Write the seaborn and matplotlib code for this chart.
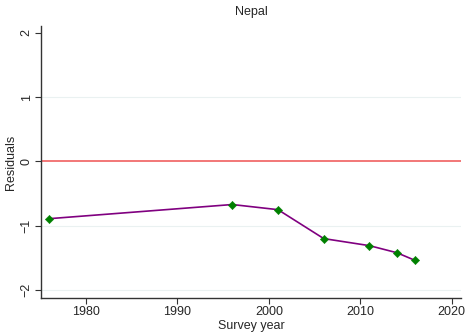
import numpy as np
import pandas as pd
import seaborn as sns
import matplotlib.pyplot as plt

years = [1976, 1996, 2001, 2006, 2011, 2014, 2016]
residuals = [-0.89, -0.67, -0.75, -1.20, -1.31, -1.42, -1.54]
grid_levels = [-2, -1, 1]

df = pd.DataFrame({'year': years, 'resid': residuals})

sns.set_style('white')
plt.rcParams['font.family'] = ['Liberation Sans', 'DejaVu Sans']

fig = plt.figure(figsize=(4.67, 3.36), dpi=100)
ax = fig.add_axes([0.088, 0.113, 0.899, 0.81])

for v in grid_levels:
    ax.axhline(v, color='#eaf1f1', linewidth=0.8, zorder=0)
ax.axhline(0, color='#f06060', linewidth=1.2, zorder=1)

sns.lineplot(data=df, x='year', y='resid', color='#800080', linewidth=1.2, ax=ax, zorder=2)
sns.scatterplot(data=df, x='year', y='resid', color='#008000', marker='D', s=18,
                edgecolor='#008000', ax=ax, zorder=3)

ax.set_xlim(1975.1, 2021)
ax.set_ylim(-2.125, 2.11)
ax.set_xticks([1980, 1990, 2000, 2010, 2020])
ax.set_yticks([-2, -1, 0, 1, 2])
ax.set_yticklabels(['\u22122', '\u22121', '0', '1', '2'], rotation=90, va='center')
ax.tick_params(axis='both', direction='out', length=4, width=0.8, labelsize=9, color='#333333', pad=2)
ax.tick_params(axis='y', left=True)
ax.tick_params(axis='x', bottom=True)

for s in ['top', 'right']:
    ax.spines[s].set_visible(False)
for s in ['left', 'bottom']:
    ax.spines[s].set_color('#333333')
    ax.spines[s].set_linewidth(1.0)

ax.set_title('Nepal', fontsize=9, pad=8)
ax.set_xlabel('Survey year', fontsize=9, labelpad=1)
ax.set_ylabel('Residuals', fontsize=9, labelpad=3)

fig.savefig('out.png', dpi=100)
